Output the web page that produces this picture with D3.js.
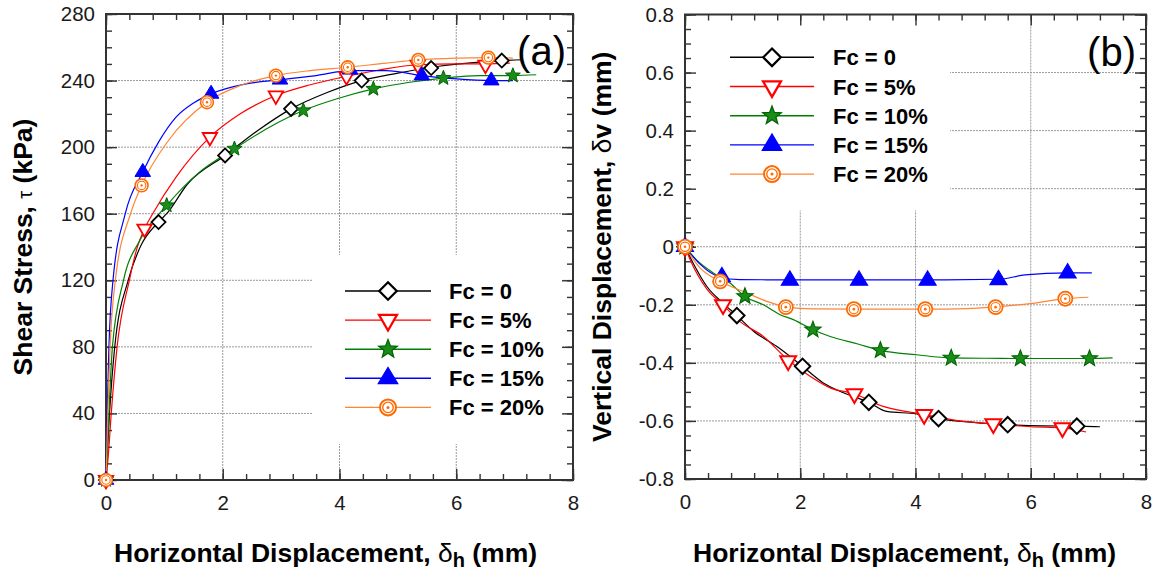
<!DOCTYPE html>
<html><head><meta charset="utf-8">
<script src="https://cdn.jsdelivr.net/npm/d3@7"></script>
<style>
html,body{margin:0;padding:0;background:#fff;}
svg text{font-family:"Liberation Sans",Arial,sans-serif;}
</style></head>
<body><svg id="chart" width="1158" height="571"></svg>
<script>
// ---------------- data ----------------
const seriesNames = ["Fc = 0", "Fc = 5%", "Fc = 10%", "Fc = 15%", "Fc = 20%"];
const xTicks = [0, 2, 4, 6, 8];
const shearTicks = [0, 40, 80, 120, 160, 200, 240, 280];
const vertTicks = [-0.8, -0.6, -0.4, -0.2, 0, 0.2, 0.4, 0.6, 0.8];
const vertTickLabels = ["-0.8", "-0.6", "-0.4", "-0.2", "0", "0.2", "0.4", "0.6", "0.8"];

// (a) shear stress (kPa) vs horizontal displacement (mm)
const shearCurveFc0  = [[0,0],[0.02,15],[0.06,40],[0.15,80],[0.38,120],[0.6,141],[0.9,155],[1.04,160],[1.4,178],[2.04,195],[2.6,210],[3.17,223],[3.8,233],[4.38,240],[5.0,244.5],[5.57,248],[6.2,250.5],[6.78,252],[7.14,252.5]];
const shearCurveFc5  = [[0,0],[0.04,15],[0.09,40],[0.19,80],[0.4,120],[0.52,138],[0.66,151],[0.8,160],[1.2,182],[1.78,206],[2.3,220],[2.91,231],[3.5,237.5],[4.12,242.5],[4.7,246.5],[5.34,249.5],[6.0,250],[6.5,250],[6.92,250.5]];
const shearCurveFc10 = [[0,0],[0.02,15],[0.05,40],[0.11,80],[0.3,120],[0.58,144],[1.04,165],[1.6,185],[2.2,199],[2.8,212],[3.38,222],[4.0,229.5],[4.58,235],[5.2,239],[5.78,241.5],[6.4,243],[6.97,243],[7.37,243.5]];
const shearCurveFc15 = [[0,0],[0.02,40],[0.05,80],[0.12,120],[0.33,160],[0.63,185],[0.9,203],[1.2,218],[1.5,226.5],[1.8,232],[2.4,238],[2.98,240.5],[3.6,243],[4.18,246],[4.8,246],[5.41,243],[6.0,241],[6.6,240],[6.97,240]];
const shearCurveFc20 = [[0,0],[0.03,40],[0.07,80],[0.16,120],[0.42,160],[0.61,177],[1.07,204],[1.73,227],[2.3,237],[2.91,243],[3.5,246],[4.14,248],[4.8,250.5],[5.35,252.4],[6.0,253.5],[6.55,253.8],[6.97,253.5]];

const shearMarkFc0  = [[0,0],[0.9,155],[2.04,195],[3.17,223],[4.38,240],[5.57,247.5],[6.78,252]];
const shearMarkFc5  = [[0,0],[0.66,151],[1.78,206],[2.91,231],[4.12,242.5],[5.34,249.5],[6.5,249.5]];
const shearMarkFc10 = [[0,0],[1.04,165],[2.2,199],[3.38,222],[4.58,235],[5.78,241.5],[6.97,243]];
const shearMarkFc15 = [[0,0],[0.63,185],[1.8,232],[2.98,240.5],[4.18,246.5],[5.41,243],[6.6,240]];
const shearMarkFc20 = [[0,0],[0.61,177],[1.73,227],[2.91,243],[4.14,248],[5.35,252.4],[6.55,253.8]];

// (b) vertical displacement (mm) vs horizontal displacement (mm)
const vertCurveFc0  = [[0,0],[0.14,-0.056],[0.38,-0.137],[0.66,-0.194],[0.9,-0.237],[1.19,-0.291],[1.59,-0.343],[1.82,-0.377],[2.04,-0.412],[2.4,-0.469],[2.75,-0.503],[3.19,-0.536],[3.5,-0.567],[4.02,-0.576],[4.4,-0.592],[5.0,-0.605],[5.6,-0.613],[6.2,-0.617],[6.8,-0.618],[7.2,-0.62]];
const vertCurveFc5  = [[0,0],[0.09,-0.045],[0.38,-0.146],[0.66,-0.2],[0.95,-0.257],[1.36,-0.309],[1.79,-0.39],[2.17,-0.446],[2.52,-0.486],[2.94,-0.507],[3.44,-0.55],[4.15,-0.578],[4.7,-0.598],[5.35,-0.61],[6.0,-0.62],[6.55,-0.624],[6.96,-0.638]];
const vertCurveFc10 = [[0,0],[0.2,-0.045],[0.49,-0.09],[0.78,-0.125],[1.04,-0.171],[1.36,-0.2],[1.65,-0.234],[1.88,-0.251],[2.22,-0.286],[2.52,-0.309],[3.0,-0.335],[3.39,-0.357],[4.02,-0.372],[4.62,-0.383],[5.2,-0.384],[5.82,-0.385],[6.4,-0.385],[7.02,-0.385],[7.42,-0.383]];
const vertCurveFc15 = [[0,0],[0.26,-0.06],[0.61,-0.105],[0.95,-0.113],[1.82,-0.114],[3.02,-0.114],[4.21,-0.114],[5.44,-0.112],[5.9,-0.097],[6.64,-0.09],[7.06,-0.09]];
const vertCurveFc20 = [[0,0],[0.26,-0.073],[0.61,-0.119],[1.07,-0.159],[1.42,-0.188],[1.75,-0.207],[2.23,-0.214],[3.0,-0.215],[4.17,-0.215],[4.9,-0.213],[5.39,-0.207],[5.99,-0.196],[6.6,-0.179],[7.0,-0.174]];

const vertMarkFc0  = [[0,0],[0.9,-0.237],[2.04,-0.412],[3.19,-0.536],[4.4,-0.592],[5.6,-0.613],[6.8,-0.618]];
const vertMarkFc5  = [[0,0],[0.66,-0.2],[1.79,-0.393],[2.94,-0.507],[4.15,-0.578],[5.35,-0.61],[6.55,-0.624]];
const vertMarkFc10 = [[0,0],[1.04,-0.171],[2.22,-0.286],[3.39,-0.357],[4.62,-0.383],[5.82,-0.385],[7.02,-0.385]];
const vertMarkFc15 = [[0,0],[0.64,-0.104],[1.82,-0.116],[3.02,-0.116],[4.21,-0.116],[5.44,-0.114],[6.64,-0.091]];
const vertMarkFc20 = [[0,0],[0.61,-0.119],[1.75,-0.208],[2.93,-0.215],[4.17,-0.215],[5.39,-0.208],[6.6,-0.179]];

// ---------------- styles ----------------
const styles = [
  {line:"#000000", stroke:"#000000", fill:"#ffffff", shape:"diamond"},
  {line:"#ff0000", stroke:"#ff0000", fill:"#ffffff", shape:"tridown"},
  {line:"#008000", stroke:"#006400", fill:"#1a8c1a", shape:"star"},
  {line:"#0000ff", stroke:"#0000ff", fill:"#0000ff", shape:"triup"},
  {line:"#ff8533", stroke:"#ff6a00", fill:"#ffffff", shape:"circle"}
];

const svg = d3.select("#chart");
const FONT = '"Liberation Sans",Arial,sans-serif';

function drawMarker(g, shape, cx, cy, s, st) {
  const m = g.append("g").attr("transform", `translate(${cx},${cy})`);
  if (shape === "diamond") {
    const r = 7*s;
    m.append("path").attr("d", `M0,${-r}L${r},0L0,${r}L${-r},0Z`)
      .attr("fill", st.fill).attr("stroke", st.stroke).attr("stroke-width", 1.8*s);
  } else if (shape === "tridown") {
    const w = 7.2*s, h = 12.5*s;
    m.append("path").attr("d", `M${-w},${-h/3}L${w},${-h/3}L0,${2*h/3}Z`)
      .attr("fill", st.fill).attr("stroke", st.stroke).attr("stroke-width", 1.8*s).attr("stroke-linejoin","miter");
  } else if (shape === "triup") {
    const w = 7.8*s, h = 13*s;
    m.append("path").attr("d", `M${-w},${h/3}L${w},${h/3}L0,${-2*h/3}Z`)
      .attr("fill", st.fill).attr("stroke", st.stroke).attr("stroke-width", 1*s);
  } else if (shape === "star") {
    const R = 7.8*s, r = 3.3*s;
    let d = "";
    for (let i = 0; i < 10; i++) {
      const a = -Math.PI/2 + i*Math.PI/5;
      const rr = i % 2 ? r : R;
      d += (i ? "L" : "M") + (rr*Math.cos(a)).toFixed(2) + "," + (rr*Math.sin(a)).toFixed(2);
    }
    m.append("path").attr("d", d + "Z").attr("fill", st.fill).attr("stroke", st.stroke).attr("stroke-width", 1*s);
  } else if (shape === "circle") {
    m.append("circle").attr("r", 6.4*s).attr("fill", st.fill).attr("stroke", st.stroke).attr("stroke-width", 1.6*s);
    m.append("circle").attr("r", 4.2*s).attr("fill", "none").attr("stroke", st.stroke).attr("stroke-width", 1.1*s);
    m.append("circle").attr("r", 1.2*s).attr("fill", st.stroke);
  }
}

function panel(opt) {
  const {x0,x1,y0,y1,yDomain,yMajor,yMinorStep,yFmt,curves,marks,legend,tag,gridBreak,yTitle,xTitleX,yTitleX,mScale} = opt;
  const g = svg.append("g");
  const x = d3.scaleLinear().domain([0,8]).range([x0,x1]);
  const y = d3.scaleLinear().domain(yDomain).range([y1,y0]);
  const xMinor = d3.range(0, 8.0001, 0.4);
  const yMinor = d3.range(yDomain[0], yDomain[1]+1e-9, yMinorStep);

  // grid
  const grid = g.append("g").attr("stroke","#9a9a9a").attr("stroke-width",1).attr("stroke-dasharray","2,1");
  xTicks.slice(1,-1).forEach(v => grid.append("line").attr("x1",x(v)).attr("x2",x(v)).attr("y1",y0).attr("y2",y1));
  yMajor.slice(1,-1).forEach(v => grid.append("line").attr("x1",x0).attr("x2",x1).attr("y1",y(v)).attr("y2",y(v)));
  // legend box (white)
  g.append("rect").attr("x",gridBreak[0]).attr("y",gridBreak[1]).attr("width",gridBreak[2]).attr("height",gridBreak[3]).attr("fill","#fff");

  // axes with inward ticks
  const tickCol = "#333";
  const ax = (axis, tr) => {
    const a = g.append("g").attr("transform", tr).call(axis);
    a.select(".domain").remove();
    a.selectAll(".tick line").attr("stroke", tickCol).attr("stroke-width", 1.4);
    a.selectAll(".tick text").attr("fill","#1a1a1a").style("font-family",FONT).style("font-size","20.5px");
    return a;
  };
  ax(d3.axisBottom(x).tickValues(xMinor).tickSize(-6).tickFormat(""), `translate(0,${y1})`);
  ax(d3.axisTop(x).tickValues(xMinor).tickSize(-6).tickFormat(""), `translate(0,${y0})`);
  ax(d3.axisBottom(x).tickValues(xTicks).tickSize(-11).tickPadding(15).tickFormat(d3.format("d")), `translate(0,${y1})`);
  ax(d3.axisTop(x).tickValues(xTicks).tickSize(-11).tickFormat(""), `translate(0,${y0})`);
  ax(d3.axisLeft(y).tickValues(yMinor).tickSize(-6).tickFormat(""), `translate(${x0},0)`);
  ax(d3.axisRight(y).tickValues(yMinor).tickSize(-6).tickFormat(""), `translate(${x1},0)`);
  ax(d3.axisLeft(y).tickValues(yMajor).tickSize(-11).tickPadding(11).tickFormat(yFmt), `translate(${x0},0)`);
  ax(d3.axisRight(y).tickValues(yMajor).tickSize(-11).tickFormat(""), `translate(${x1},0)`);
  g.append("rect").attr("x",x0).attr("y",y0).attr("width",x1-x0).attr("height",y1-y0)
    .attr("fill","none").attr("stroke","#333").attr("stroke-width",2);

  // lines
  const line = d3.line().x(d=>x(d[0])).y(d=>y(d[1])).curve(d3.curveMonotoneX);
  curves.forEach((c,i) => g.append("path").attr("d", line(c)).attr("fill","none")
    .attr("stroke", styles[i].line).attr("stroke-width", 1.2));
  // markers
  marks.forEach((mk,i) => mk.forEach(p => drawMarker(g, styles[i].shape, x(p[0]), y(p[1]), mScale, styles[i])));

  // legend
  seriesNames.forEach((name,i) => {
    const yy = legend.y + i*legend.dy;
    g.append("line").attr("x1",legend.lx0).attr("x2",legend.lx1).attr("y1",yy).attr("y2",yy)
      .attr("stroke",styles[i].line).attr("stroke-width",1.4);
    drawMarker(g, styles[i].shape, (legend.lx0+legend.lx1)/2, yy, 1.25, styles[i]);
    g.append("text").attr("x",legend.tx).attr("y",yy+8).text(name)
      .style("font-size","22px").style("font-weight","bold").attr("fill","#000");
  });

  // tag
  g.append("text").attr("x",tag.x).attr("y",tag.y).attr("text-anchor","end").text(tag.t)
    .style("font-size","40px").attr("fill","#000");

  // x title
  const xt = g.append("text").attr("x",xTitleX).attr("y",562).style("font-size","26.5px").style("font-weight","bold").attr("fill","#000");
  xt.append("tspan").text("Horizontal Displacement, ");
  xt.append("tspan").text("δ").style("font-weight","normal");
  xt.append("tspan").text("h").attr("dy",5).style("font-size","20px");
  xt.append("tspan").text(" (mm)").attr("dy",-5);

  // y title
  const yt = g.append("text").attr("transform",`translate(${yTitleX},${(y0+y1)/2}) rotate(-90)`)
    .attr("text-anchor","middle").style("font-size","26.5px").style("font-weight","bold").attr("fill","#000");
  yTitle.forEach(part => yt.append("tspan").text(part[0]).style("font-weight", part[1] ? "normal" : "bold")
    .style("font-size", part[2] || "26.5px"));
}

panel({
  x0:106, x1:573, y0:14, y1:480, yDomain:[0,280], yMajor:shearTicks, yMinorStep:10,
  yFmt: d3.format("d"),
  curves:[shearCurveFc0,shearCurveFc5,shearCurveFc10,shearCurveFc15,shearCurveFc20],
  marks:[shearMarkFc0,shearMarkFc5,shearMarkFc10,shearMarkFc15,shearMarkFc20],
  legend:{lx0:345, lx1:431, y:291, dy:29.1, tx:449},
  tag:{x:566, y:65, t:"(a)"},
  gridBreak:[313,255,250,189],
  yTitle:[["Shear Stress, "],["τ",true,"20px"],[" (kPa)"]],
  xTitleX:114, yTitleX:32, mScale:1
});

panel({
  x0:685, x1:1146, y0:14.5, y1:479, yDomain:[-0.8,0.8], yMajor:vertTicks, yMinorStep:0.05,
  yFmt: (d) => vertTickLabels[vertTicks.findIndex(v => Math.abs(v-d) < 1e-9)],
  curves:[vertCurveFc0,vertCurveFc5,vertCurveFc10,vertCurveFc15,vertCurveFc20],
  marks:[vertMarkFc0,vertMarkFc5,vertMarkFc10,vertMarkFc15,vertMarkFc20],
  legend:{lx0:730, lx1:814, y:57.3, dy:29.2, tx:833},
  tag:{x:1136, y:66, t:"(b)"},
  gridBreak:[686,15.5,264,195],
  yTitle:[["Vertical Displacement, "],["δ",true],["v (mm)"]],
  xTitleX:693, yTitleX:611, mScale:1.1
});
</script></body></html>
